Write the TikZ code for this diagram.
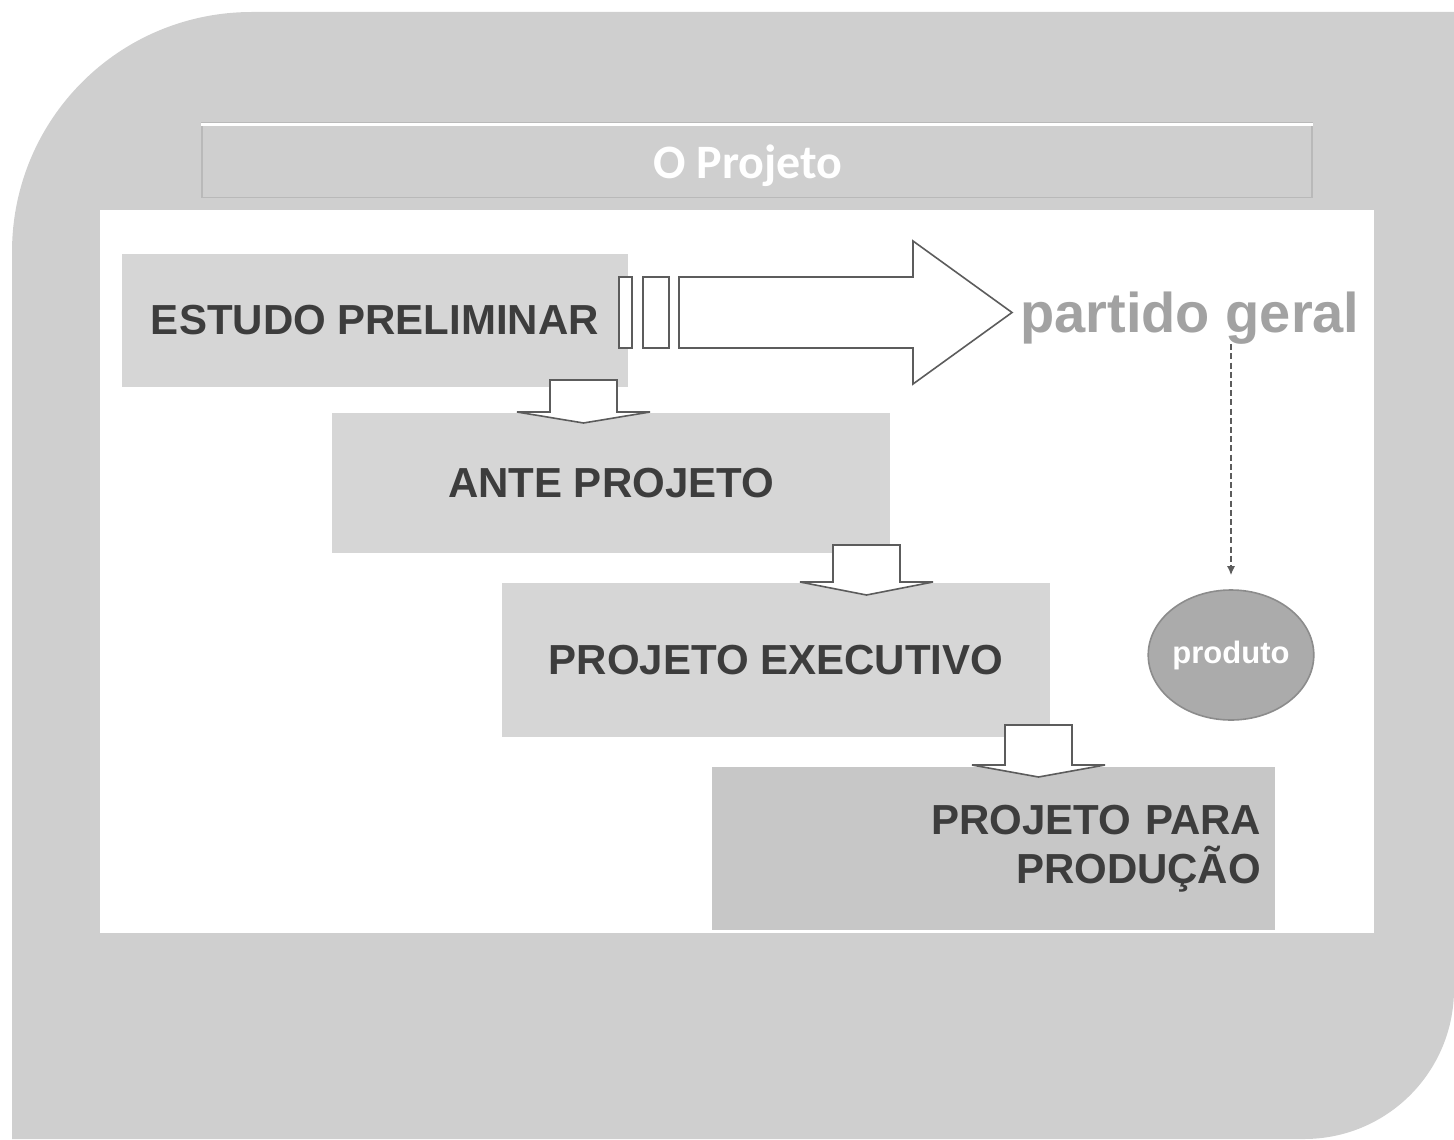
\documentclass[tikz,border=0pt]{standalone}
\usepackage{fontspec}
\setmainfont{Liberation Sans}
\newfontfamily\titlefont{Carlito}
\usetikzlibrary{arrows.meta, positioning, shapes.geometric}

\definecolor{slidebg}{HTML}{CFCFCF}
\definecolor{boxfill}{HTML}{D6D6D6}
\definecolor{boxdark}{HTML}{C7C7C7}
\definecolor{barline}{HTML}{B9B9B9}
\definecolor{textdark}{HTML}{3D3D3D}
\definecolor{softgray}{HTML}{A2A2A2}
\definecolor{circfill}{HTML}{ABABAB}
\definecolor{circline}{HTML}{8C8C8C}
\definecolor{arrowline}{HTML}{5C5C5C}

\tikzset{
  stage/.style={
    rectangle,
    fill=boxfill,
    inner sep=0pt,
    align=center,
    text=textdark,
    font=\bfseries\fontsize{21}{24.5}\selectfont,
  },
  stagedark/.style={
    stage,
    fill=boxdark
  },
  blockarrow/.style={
    draw=arrowline,
    fill=white,
    line width=0.8pt,
    line join=miter
  },
  dasharrow/.style={
    draw=arrowline,
    line width=0.7pt,
    dash pattern=on 3pt off 1.6pt,
    -{Latex[length=4.5pt,width=4pt]}
  }
}

\begin{document}
\begin{tikzpicture}[x=0.5pt,y=-0.5pt]
\useasboundingbox (0,0) rectangle (1454,1139);

% --- Slide background ---
\fill[slidebg] (12,1139) -- (12,252) .. controls (12,119) and (119,12) .. (252,12)
  -- (1454,12) -- (1454,989) .. controls (1454,1072) and (1387,1139) .. (1304,1139) -- cycle;
\fill[white] (100,210) rectangle (1374,933);

% --- Title bar ---
\node[draw=barline, fill=slidebg, line width=0.8pt, minimum width=555pt, minimum height=37.5pt,
      text=white, font=\titlefont\bfseries\fontsize{24}{28}\selectfont] (title) at (757,160) {};
\node[text=white, font=\titlefont\bfseries\fontsize{24}{28}\selectfont] (titletext) at (748,166) {O Projeto};
\draw[white, line width=1.6pt] ([yshift=-1.5pt]title.north west) -- ([yshift=-1.5pt]title.north east);

% --- Stages ---
\node[stage, minimum width=253pt, minimum height=66.5pt] (estudo) at (375,320) {ESTUDO PRELIMINAR};
\node[stage, minimum width=279pt, minimum height=70pt] (ante) at (611,483) {ANTE PROJETO};
\node[stage, minimum width=274pt, minimum height=77pt] (exec) at (776,660) {PROJETO EXECUTIVO};
\node[stagedark, minimum width=281.5pt, minimum height=81.5pt, inner xsep=7pt,
      text width=267.5pt, align=right] (producao) at (993.5,848.5)
      {PROJETO PARA\hspace*{0.25em}\\PRODUÇÃO};

% --- Down arrows between stages ---
\coordinate (dn1) at (550,380);
\coordinate (dn2) at (833,545);
\coordinate (dn3) at (1005,725);
\draw[blockarrow] (dn1) -- ++(0,32) -- ++(-33,0) -- ++(66.5,11) -- ++(66.5,-11) -- ++(-33,0) -- ++(0,-32) -- cycle;
\draw[blockarrow] (dn2) -- ++(0,37) -- ++(-33,0) -- ++(66.5,13) -- ++(66.5,-13) -- ++(-33,0) -- ++(0,-37) -- cycle;
\draw[blockarrow] (dn3) -- ++(0,40) -- ++(-33,0) -- ++(66.5,12) -- ++(66.5,-12) -- ++(-33,0) -- ++(0,-40) -- cycle;

% --- Striped arrow to partido geral ---
\draw[blockarrow] (619,277) rectangle (632,348);
\draw[blockarrow] (643,277) rectangle (669,348);
\coordinate (tip) at (1012,312.5);
\draw[blockarrow] (679,277) -- (913,277) -- (913,241) -- (tip) -- (913,384) -- (913,348) -- (679,348) -- cycle;

\node[anchor=base west, inner sep=0pt, text=softgray, font=\bfseries\fontsize{28}{32}\selectfont]
  (partido) at (1020,332) {partido geral};

% --- Produto ---
\node[ellipse, draw=circline, fill=circfill, line width=0.8pt, minimum width=70pt, minimum height=65pt,
      inner sep=0pt, text=white, font=\bfseries\fontsize{15.5}{18}\selectfont] (produto) at (1231,655) {produto};

\draw[dasharrow, shorten >=7pt] (partido.south -| produto.north) -- (produto.north);

\end{tikzpicture}
\end{document}
